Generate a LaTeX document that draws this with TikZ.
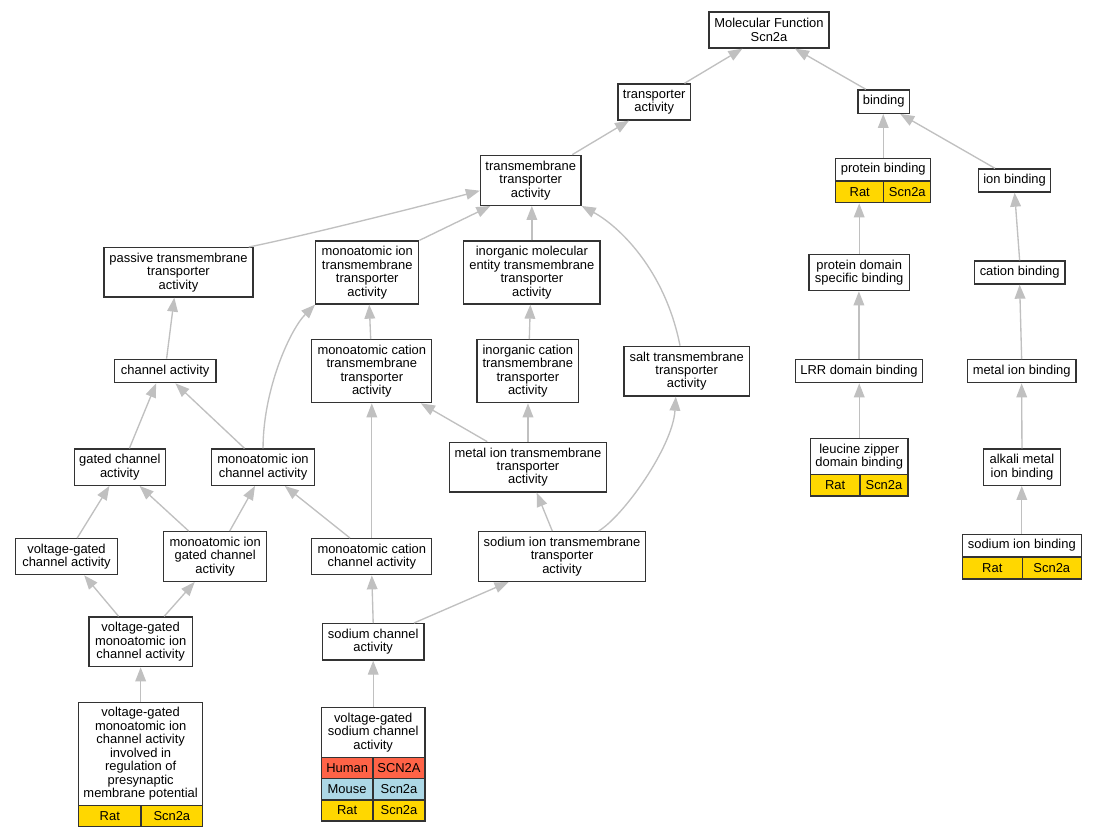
\documentclass[tikz,border=0pt]{standalone}
\usepackage{fontspec}
\setmainfont{Liberation Sans}
\usetikzlibrary{calc,arrows.meta}
\definecolor{cgold}{HTML}{FFD700}
\definecolor{ctomato}{HTML}{FF6347}
\definecolor{clblue}{HTML}{ADD8E6}
\definecolor{cedge}{HTML}{C0C0C0}
\definecolor{cborder}{HTML}{333333}
\tikzset{
  box/.style={draw=cborder, line width=1pt, fill=white, inner sep=0pt, align=center,
    font=\fontsize{9.7}{10.1}\selectfont},
  link/.style={draw=cedge, line width=1pt, -{Triangle[length=10.5pt,width=8pt]}}
}
\newcommand{\mkbox}[7][]{\node[box,#1,minimum width={(#5-#3)*0.75pt},minimum height={(#6-#4)*0.75pt}] (#2) at ({(#3+#5)/2},{(#4+#6)/2}) {#7};}
\begin{document}
\begin{tikzpicture}[x=0.75pt,y=-0.75pt]
\useasboundingbox[fill=white] (0,0) rectangle (1096,837);
% nodes
\mkbox{MF}{709}{12}{829}{48}{Molecular Function\\Scn2a}
\mkbox{TA}{618}{84}{690.5}{120}{transporter\\activity}
\mkbox{BIND}{858}{90}{909.5}{113.3}{binding}
\mkbox{TT}{480.5}{155.3}{581}{205.3}{transmembrane\\transporter\\activity}
\mkbox{PB}{835.7}{158.3}{930.8}{181}{protein binding}
\mkbox[fill=cgold]{PBa}{835.7}{181}{883.8}{202.7}{Rat}
\mkbox[fill=cgold]{PBb}{883.8}{181}{930.8}{202.7}{Scn2a}
\mkbox{IB}{978.5}{169}{1050.7}{192}{ion binding}
\mkbox{PTT}{104}{247.7}{253}{297}{passive transmembrane\\transporter\\activity}
\mkbox{MITT}{315.7}{241}{418.8}{304}{monoatomic ion\\transmembrane\\transporter\\activity}
\mkbox{IMETT}{463.7}{241}{600}{304}{inorganic molecular\\entity transmembrane\\transporter\\activity}
\mkbox{PDSB}{809}{254.3}{909.4}{290.7}{protein domain\\specific binding}
\mkbox{CB}{974.3}{261}{1065}{284}{cation binding}
\mkbox{CA}{114.3}{359.3}{216}{382.7}{channel activity}
\mkbox{MCTT}{311.8}{339.7}{431.8}{402.7}{monoatomic cation\\transmembrane\\transporter\\activity}
\mkbox{ICTT}{477}{339.7}{578.6}{402.7}{inorganic cation\\transmembrane\\transporter\\activity}
\mkbox{SALT}{624}{346.3}{749.4}{396}{salt transmembrane\\transporter\\activity}
\mkbox{LRR}{795.4}{359.7}{922.4}{382.7}{LRR domain binding}
\mkbox{MIB}{967.3}{359.7}{1076}{382.7}{metal ion binding}
\mkbox{GCA}{74.4}{449}{165.2}{485.3}{gated channel\\activity}
\mkbox{MICA}{211.5}{449}{314.6}{485.3}{monoatomic ion\\channel activity}
\mkbox{MITTB}{449.3}{442.3}{606.7}{492}{metal ion transmembrane\\transporter\\activity}
\mkbox{LZ}{810.5}{438.7}{908}{474.7}{leucine zipper\\domain binding}
\mkbox[fill=cgold]{LZa}{810.5}{474.7}{859.9}{496}{Rat}
\mkbox[fill=cgold]{LZb}{859.9}{474.7}{908}{496}{Scn2a}
\mkbox{AMIB}{983.7}{449}{1060.2}{485.3}{alkali metal\\ion binding}
\mkbox{VGCA}{15.8}{538.7}{117.2}{574.7}{voltage-gated\\channel activity}
\mkbox{MIGCA}{163.8}{531.7}{266.6}{581.3}{monoatomic ion\\gated channel\\activity}
\mkbox{MCCA}{311.8}{538.7}{431.8}{574.7}{monoatomic cation\\channel activity}
\mkbox{SITT}{478.8}{531.7}{645.3}{581.3}{sodium ion transmembrane\\transporter\\activity}
\mkbox{SIB}{962.3}{534.3}{1081.3}{557}{sodium ion binding}
\mkbox[fill=cgold]{SIBa}{962.3}{557}{1022.3}{579}{Rat}
\mkbox[fill=cgold]{SIBb}{1022.3}{557}{1081.3}{579}{Scn2a}
\mkbox{VGMICA}{89.1}{617}{192.2}{666.7}{voltage-gated\\monoatomic ion\\channel activity}
\mkbox{SCA}{322.3}{623.7}{424.1}{660}{sodium channel\\activity}
\mkbox{PRE}{78.6}{702.3}{202.7}{805.3}{voltage-gated\\monoatomic ion\\channel activity\\involved in\\regulation of\\presynaptic\\membrane potential}
\mkbox[fill=cgold]{PREa}{78.6}{805.3}{141}{826.3}{Rat}
\mkbox[fill=cgold]{PREb}{141}{805.3}{202.7}{826.3}{Scn2a}
\mkbox{VGSCA}{321.3}{707.3}{425.1}{757.3}{voltage-gated\\sodium channel\\activity}
\mkbox[fill=ctomato]{VGa}{321.3}{757.3}{372.9}{778.7}{Human}
\mkbox[fill=ctomato]{VGb}{372.9}{757.3}{425.1}{778.7}{SCN2A}
\mkbox[fill=clblue]{VGc}{321.3}{778.7}{372.9}{800}{Mouse}
\mkbox[fill=clblue]{VGd}{372.9}{778.7}{425.1}{800}{Scn2a}
\mkbox[fill=cgold]{VGe}{321.3}{800}{372.9}{821}{Rat}
\mkbox[fill=cgold]{VGf}{372.9}{800}{425.1}{821}{Scn2a}
% edges
\draw[link] ($(TA.north)+(30.2,0)$) -- ($(MF.south)+(-26.6,0)$);
\draw[link] ($(BIND.north)+(-17.9,0)$) -- ($(MF.south)+(26,0)$);
\draw[link] ($(TT.north)+(41.5,0)$) -- ($(TA.south)+(-25.2,0)$);
\draw[link] (PB.north) -- (PB.north |- BIND.south);
\draw[link] ($(IB.north)+(-19.6,0)$) -- ($(BIND.south)+(16.5,0)$);
\draw[link] ($(PTT.north)+(70.2,0)$) .. controls +(50,-10) and +(-60,16) .. ($(TT.west)+(0,10.4)$);
\draw[link] (MITT.north east) -- ($(TT.south)+(-40.4,0)$);
\draw[link] (IMETT.north) -- (IMETT.north |- TT.south);
\draw[link] ($(SALT.north)+(-6.7,0)$) .. controls +(-15,-76) and +(37,20) .. (TT.south east);
\draw[link] ($(CA.north)+(1.45,0)$) -- ($(PTT.south)+(-4.2,0)$);
\draw[link] ($(MCTT.north)+(-1.1,0)$) -- ($(MITT.south)+(2,0)$);
\draw[link] ($(ICTT.north)+(1.5,0)$) -- ($(IMETT.south)+(-1.5,0)$);
\draw[link] (MICA.north) .. controls +(0,-59) and +(-25,25) .. (MITT.south west);
\draw[link] ($(GCA.north)+(9.6,0)$) -- ($(CA.south)+(-9.05,0)$);
\draw[link] ($(MICA.north)+(-18.55,0)$) -- ($(CA.south)+(10.25,0)$);
\draw[link] ($(MITTB.north)+(-40.8,0)$) -- ($(MCTT.south)+(49.1,0)$);
\draw[link] (MITTB.north) -- (MITTB.north |- ICTT.south);
\draw[link] (MCCA.north) -- (MCTT.south);
\draw[link] ($(MCCA.north)+(-21.8,0)$) -- ($(MICA.south)+(21.75,0)$);
\draw[link] ($(VGCA.north)+(10.7,0)$) -- ($(GCA.south)+(-10.4,0)$);
\draw[link] ($(MIGCA.north)+(-26.5,0)$) -- ($(GCA.south)+(19.8,0)$);
\draw[link] ($(MIGCA.north)+(14.5,0)$) -- ($(MICA.south)+(-8.05,0)$);
\draw[link] ($(SITT.north)+(-9.75,0)$) -- ($(MITTB.south)+(8.7,0)$);
\draw[link] ($(SITT.north)+(36.55,0)$) .. controls +(25,-15) and +(-3,50) .. ($(SALT.south)+(-10.9,0)$);
\draw[link] ($(VGMICA.north)+(-22.05,0)$) -- ($(VGCA.south)+(17.7,0)$);
\draw[link] ($(VGMICA.north)+(23.55,0)$) -- ($(MIGCA.south)+(-20.5,0)$);
\draw[link] (SCA.north) -- (MCCA.south);
\draw[link] ($(SCA.north)+(40.7,0)$) -- ($(SITT.south)+(-53.45,0)$);
\draw[link] (PRE.north) -- (VGMICA.south);
\draw[link] (VGSCA.north) -- (SCA.south);
\draw[link] (PDSB.north) -- (PDSB.north |- PBa.south);
\draw[link] (CB.north) -- (IB.south);
\draw[link] (LRR.north) -- (LRR.north |- PDSB.south);
\draw[link] (MIB.north) -- (CB.south);
\draw[link] (LZ.north) -- (LZ.north |- LRR.south);
\draw[link] (AMIB.north) -- (MIB.south);
\draw[link] (SIB.north) -- (SIB.north |- AMIB.south);
\end{tikzpicture}
\end{document}
